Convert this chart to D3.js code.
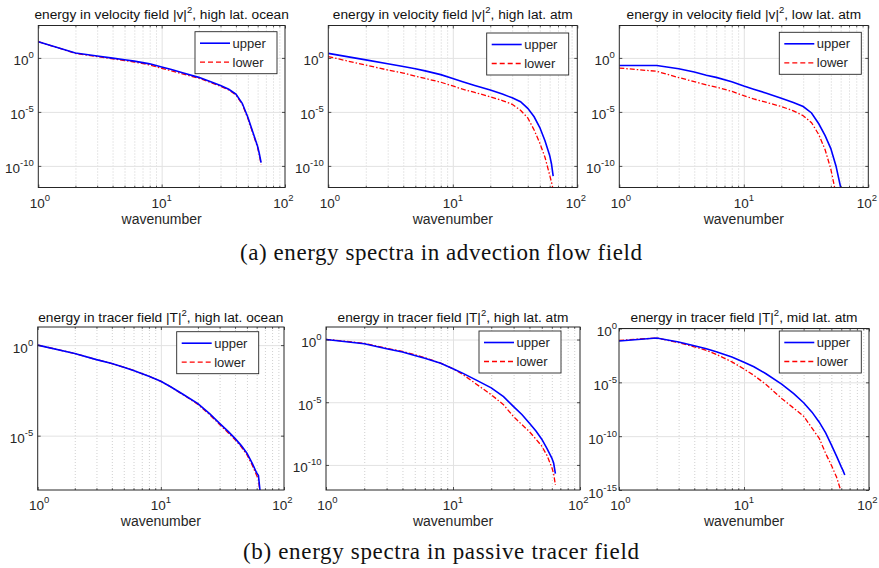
<!DOCTYPE html>
<html>
<head>
<meta charset="utf-8">
<script src="https://cdn.jsdelivr.net/npm/d3@7"></script>
<style>
  body { margin: 0; background: #fff; }
  svg { display: block; }
  text { font-family: "Liberation Sans", Arial, Helvetica, sans-serif; }
</style>
</head>
<body>
<svg id="fig" width="879" height="568"></svg>
<script>
// ---- data: spectral energy versus wavenumber ----
const wavenumber = [1, 2, 3, 4, 5, 6, 8, 10, 12, 15, 20, 25, 30, 35, 40, 45, 50, 55, 60, 62, 64];

// velocity field |v|^2
const velOceanUpper = [3.16e1, 2.82, 1.48, 9.55e-1, 6.76e-1, 5.01e-1, 2.82e-1, 1.41e-1, 8.32e-2, 3.98e-2, 1.58e-2, 6.31e-3, 2.82e-3, 1.26e-3, 4.47e-4, 6.31e-5, 3.16e-6, 1.26e-7, 6.31e-9, 1.26e-9, 2.0e-10];
const velOceanLower = [3.16e1, 2.63, 1.32, 8.32e-1, 5.62e-1, 4.17e-1, 2.24e-1, 1.07e-1, 6.31e-2, 3.16e-2, 1.32e-2, 5.25e-3, 2.4e-3, 1.07e-3, 3.8e-4, 5.01e-5, 2.51e-6, 1.0e-7, 5.01e-9, 1.0e-9, 1.41e-10];
const velHighAtmUpper = [2.63, 6.61e-1, 2.82e-1, 1.58e-1, 1.0e-1, 6.31e-2, 2.82e-2, 1.26e-2, 6.31e-3, 2.82e-3, 1.07e-3, 4.47e-4, 2.0e-4, 8.71e-5, 2.14e-5, 3.55e-6, 3.55e-7, 2.14e-8, 9.33e-10, 1.58e-10, 1.15e-11];
const velHighAtmLower = [1.32, 2.14e-1, 7.59e-2, 3.98e-2, 2.0e-2, 1.26e-2, 5.62e-3, 2.51e-3, 1.26e-3, 6.31e-4, 2.51e-4, 1.12e-4, 5.01e-5, 1.41e-5, 2.82e-6, 2.14e-7, 1.26e-8, 6.31e-10, 1.41e-11, 3.16e-12, 6.31e-13];
const velLowAtmUpper = [2.0e-1, 2.0e-1, 1.0e-1, 5.01e-2, 2.51e-2, 1.58e-2, 6.31e-3, 2.51e-3, 1.26e-3, 5.62e-4, 1.86e-4, 7.59e-5, 3.16e-5, 7.94e-6, 7.94e-7, 6.31e-8, 3.98e-9, 1.0e-10, 1.0e-12, 1.0e-13, 1.0e-14];
const velLowAtmLower = [1.15e-1, 5.75e-2, 1.51e-2, 6.31e-3, 3.16e-3, 2.0e-3, 7.94e-4, 3.16e-4, 1.58e-4, 7.94e-5, 3.16e-5, 1.26e-5, 4.47e-6, 1.0e-6, 7.94e-8, 3.16e-9, 5.01e-11, 2.51e-13, 1.0e-15, null, null];

// tracer field |T|^2
const tracerOceanUpper = [1.0, 3.47e-1, 1.58e-1, 9.55e-2, 6.03e-2, 3.98e-2, 1.91e-2, 1.0e-2, 5.01e-3, 2.0e-3, 5.89e-4, 1.58e-4, 4.79e-5, 1.78e-5, 7.08e-6, 2.82e-6, 1.07e-6, 3.16e-7, 8.71e-8, 6.31e-8, 7.94e-9];
const tracerOceanLower = [1.0, 3.47e-1, 1.58e-1, 9.55e-2, 6.03e-2, 3.98e-2, 1.91e-2, 1.0e-2, 5.01e-3, 1.91e-3, 5.37e-4, 1.41e-4, 4.17e-5, 1.51e-5, 6.03e-6, 2.4e-6, 8.91e-7, 2.51e-7, 6.31e-8, 3.98e-8, 6.31e-9];
const tracerHighAtmUpper = [1.0, 4.57e-1, 1.82e-1, 1.0e-1, 5.37e-2, 3.16e-2, 1.26e-2, 4.68e-3, 2.0e-3, 6.31e-4, 1.41e-4, 2.82e-5, 4.47e-6, 1.0e-6, 2.09e-7, 5.01e-8, 1.12e-8, 2.0e-9, 3.55e-10, 1.41e-10, 2.0e-11];
const tracerHighAtmLower = [1.05, 5.01e-1, 2.04e-1, 1.12e-1, 6.31e-2, 3.55e-2, 1.32e-2, 4.68e-3, 1.58e-3, 3.16e-4, 3.98e-5, 6.31e-6, 7.08e-7, 1.58e-7, 4.47e-8, 1.12e-8, 3.16e-9, 5.62e-10, 6.31e-11, 2.0e-11, 2.51e-12];
const tracerMidAtmUpper = [6.92e-2, 1.32e-1, 5.62e-2, 2.51e-2, 1.32e-2, 7.08e-3, 2.24e-3, 7.41e-4, 2.82e-4, 6.31e-5, 6.76e-6, 8.91e-7, 1.26e-7, 1.7e-8, 2.0e-9, 2.0e-10, 1.58e-11, 1.41e-12, 1.41e-13, 6.31e-14, 2.51e-14];
const tracerMidAtmLower = [7.94e-2, 1.32e-1, 4.9e-2, 2.0e-2, 9.33e-3, 3.98e-3, 7.94e-4, 1.74e-4, 4.47e-5, 6.31e-6, 3.16e-7, 3.98e-8, 7.08e-9, 5.62e-10, 6.31e-11, 2.51e-12, 2.0e-13, 1.58e-14, 6.31e-16, null, null];

// axis ticks
const xDomain = [1, 100];
const xMajorTicks = [1, 10, 100];
const xMinorTicks = [2, 3, 4, 5, 6, 7, 8, 9, 20, 30, 40, 50, 60, 70, 80, 90];
const yTicksVelocity = [1e0, 1e-5, 1e-10];
const yTicksTracerOcean = [1e0, 1e-5];
const yTicksTracerHighAtm = [1e0, 1e-5, 1e-10];
const yTicksTracerMidAtm = [1e0, 1e-5, 1e-10, 1e-15];

const seriesNames = ["upper", "lower"];
const captions = ["(a) energy spectra in advection flow field", "(b) energy spectra in passive tracer field"];

// ---- layout ----
const panels = [
  { title: ["energy in velocity field |v|", "2", ", high lat. ocean"], upper: velOceanUpper, lower: velOceanLower,
    yDomain: [1e-12, 1e3], yTicks: yTicksVelocity, frame: [38.3, 285, 25.5, 187.5], legend: [195, 31.7], titleY: 18.5, labelGap: 4.5 },
  { title: ["energy in velocity field |v|", "2", ", high lat. atm"], upper: velHighAtmUpper, lower: velHighAtmLower,
    yDomain: [1e-12, 1e3], yTicks: yTicksVelocity, frame: [328.3, 577.3, 25.5, 187.5], legend: [486.7, 33], titleY: 18.5, labelGap: 4.5 },
  { title: ["energy in velocity field |v|", "2", ", low lat. atm"], upper: velLowAtmUpper, lower: velLowAtmLower,
    yDomain: [1e-12, 1e3], yTicks: yTicksVelocity, frame: [619.3, 868.3, 25.5, 187.5], legend: [779.3, 32.3], titleY: 18.5, labelGap: 4.5 },
  { title: ["energy in tracer field |T|", "2", ", high lat. ocean"], upper: tracerOceanUpper, lower: tracerOceanLower,
    yDomain: [1e-8, 1e1], yTicks: yTicksTracerOcean, frame: [37.7, 284, 327, 490], legend: [176.7, 331.7], titleY: 322, labelGap: 4.5 },
  { title: ["energy in tracer field |T|", "2", ", high lat. atm"], upper: tracerHighAtmUpper, lower: tracerHighAtmLower,
    yDomain: [1e-12, 1e1], yTicks: yTicksTracerHighAtm, frame: [326, 580, 327, 490], legend: [479, 331], titleY: 322, labelGap: 4.5 },
  { title: ["energy in tracer field |T|", "2", ", mid lat. atm"], upper: tracerMidAtmUpper, lower: tracerMidAtmLower,
    yDomain: [1e-15, 1e0], yTicks: yTicksTracerMidAtm, frame: [619, 869, 328.5, 490], legend: [779.3, 331], titleY: 322, labelGap: 2 }
];

const INK = "#262626";
const BLUE = "#0000ff";
const RED = "#ff0000";
const svg = d3.select("#fig");
svg.append("rect").attr("width", 879).attr("height", 568).attr("fill", "#fff");

// "10" with a raised exponent
function powerLabel(sel, v) {
  const e = Math.round(Math.log10(v));
  sel.append("tspan").text("10");
  sel.append("tspan").attr("dy", -7).attr("font-size", 9.5).text(String(e));
}

panels.forEach((p, i) => {
  const [x0, x1, y0, y1] = p.frame;
  const x = d3.scaleLog().domain(xDomain).range([x0, x1]);
  const y = d3.scaleLog().domain(p.yDomain).range([y1, y0]);
  const g = svg.append("g");

  // minor vertical grid (dotted)
  g.append("g").attr("transform", `translate(0,${y1})`)
    .call(d3.axisBottom(x).tickValues(xMinorTicks).tickSize(-(y1 - y0)).tickFormat(""))
    .call(a => a.select(".domain").remove())
    .selectAll("line").attr("stroke", "#c4c4c4").attr("stroke-width", 0.8).attr("stroke-dasharray", "1,2");

  // major grid
  g.append("g").attr("transform", `translate(0,${y1})`)
    .call(d3.axisBottom(x).tickValues([10]).tickSize(-(y1 - y0)).tickFormat(""))
    .call(a => a.select(".domain").remove())
    .selectAll("line").attr("stroke", "#e2e2e2").attr("stroke-width", 1);
  g.append("g").attr("transform", `translate(${x0},0)`)
    .call(d3.axisLeft(y).tickValues(p.yTicks).tickSize(-(x1 - x0)).tickFormat(""))
    .call(a => a.select(".domain").remove())
    .selectAll("line").attr("stroke", "#e2e2e2").attr("stroke-width", 1);

  // curves
  const clipId = "clip" + i;
  g.append("clipPath").attr("id", clipId).append("rect")
    .attr("x", x0).attr("y", y0).attr("width", x1 - x0).attr("height", y1 - y0);
  const line = d3.line().defined(d => d[1] != null).x(d => x(d[0])).y(d => y(d[1]));
  const lowerPts = wavenumber.map((k, j) => [k, p.lower[j]]);
  const upperPts = wavenumber.map((k, j) => [k, p.upper[j]]);
  g.append("path").attr("clip-path", `url(#${clipId})`).attr("d", line(lowerPts))
    .attr("fill", "none").attr("stroke", RED).attr("stroke-width", 1.3)
    .attr("stroke-dasharray", "5,2,1.5,2");
  g.append("path").attr("clip-path", `url(#${clipId})`).attr("d", line(upperPts))
    .attr("fill", "none").attr("stroke", BLUE).attr("stroke-width", 1.6);

  // inward tick marks on all four sides
  const tickStyle = a => { a.select(".domain").remove(); a.selectAll("line").attr("stroke", INK).attr("stroke-width", 0.8); };
  g.append("g").attr("transform", `translate(0,${y1})`).call(d3.axisBottom(x).tickValues(xMajorTicks).tickSize(-3).tickFormat("")).call(tickStyle);
  g.append("g").attr("transform", `translate(0,${y0})`).call(d3.axisTop(x).tickValues(xMajorTicks).tickSize(-3).tickFormat("")).call(tickStyle);
  g.append("g").attr("transform", `translate(0,${y1})`).call(d3.axisBottom(x).tickValues(xMinorTicks).tickSize(-1.8).tickFormat("")).call(tickStyle);
  g.append("g").attr("transform", `translate(0,${y0})`).call(d3.axisTop(x).tickValues(xMinorTicks).tickSize(-1.8).tickFormat("")).call(tickStyle);
  g.append("g").attr("transform", `translate(${x0},0)`).call(d3.axisLeft(y).tickValues(p.yTicks).tickSize(-3).tickFormat("")).call(tickStyle);
  g.append("g").attr("transform", `translate(${x1},0)`).call(d3.axisRight(y).tickValues(p.yTicks).tickSize(-3).tickFormat("")).call(tickStyle);

  // frame
  g.append("rect").attr("x", x0).attr("y", y0).attr("width", x1 - x0).attr("height", y1 - y0)
    .attr("fill", "none").attr("stroke", INK).attr("stroke-width", 1);

  // tick labels (end labels nudged inward a little)
  xMajorTicks.forEach((v, j) => {
    const nudge = j === 0 ? 1.5 : (j === xMajorTicks.length - 1 ? -1.5 : 0);
    g.append("text").attr("x", x(v) + nudge).attr("y", y1 + 20).attr("text-anchor", "middle")
      .attr("font-size", 13.5).attr("fill", INK).call(powerLabel, v);
  });
  p.yTicks.forEach(v => {
    g.append("text").attr("x", x0 - p.labelGap).attr("y", y(v) + 7.5).attr("text-anchor", "end")
      .attr("font-size", 13.5).attr("fill", INK).call(powerLabel, v);
  });

  // title and axis label
  const t = g.append("text").attr("x", (x0 + x1) / 2).attr("y", p.titleY).attr("text-anchor", "middle")
    .attr("font-size", 13.7).attr("fill", "#111");
  t.append("tspan").text(p.title[0]);
  t.append("tspan").attr("dy", -6).attr("font-size", 9.5).text(p.title[1]);
  t.append("tspan").attr("dy", 6).text(p.title[2]);
  g.append("text").attr("x", (x0 + x1) / 2).attr("y", y1 + 36).attr("text-anchor", "middle")
    .attr("font-size", 14).attr("fill", INK).text("wavenumber");

  // legend
  const [lx, ly] = p.legend;
  const lg = g.append("g");
  lg.append("rect").attr("x", lx).attr("y", ly).attr("width", 82).attr("height", 42)
    .attr("fill", "#fff").attr("stroke", INK).attr("stroke-width", 0.9);
  seriesNames.forEach((name, j) => {
    const cy = ly + 11.5 + j * 19;
    lg.append("line").attr("x1", lx + 5).attr("x2", lx + 35).attr("y1", cy).attr("y2", cy)
      .attr("stroke", j === 0 ? BLUE : RED).attr("stroke-width", j === 0 ? 1.6 : 1.3)
      .attr("stroke-dasharray", j === 0 ? null : "5,3");
    lg.append("text").attr("x", lx + 37.5).attr("y", cy + 4.6).attr("font-size", 13)
      .attr("fill", INK).text(name);
  });
});

// subfigure captions
[[captions[0], 260, 402], [captions[1], 559, 396]].forEach(([txt, yy, len]) => {
  svg.append("text").attr("x", 441).attr("y", yy).attr("text-anchor", "middle")
    .style("font-family", "'Liberation Serif', 'Times New Roman', serif")
    .attr("font-size", 23).attr("fill", "#111")
    .attr("textLength", len).attr("lengthAdjust", "spacing").text(txt);
});
</script>
</body>
</html>
